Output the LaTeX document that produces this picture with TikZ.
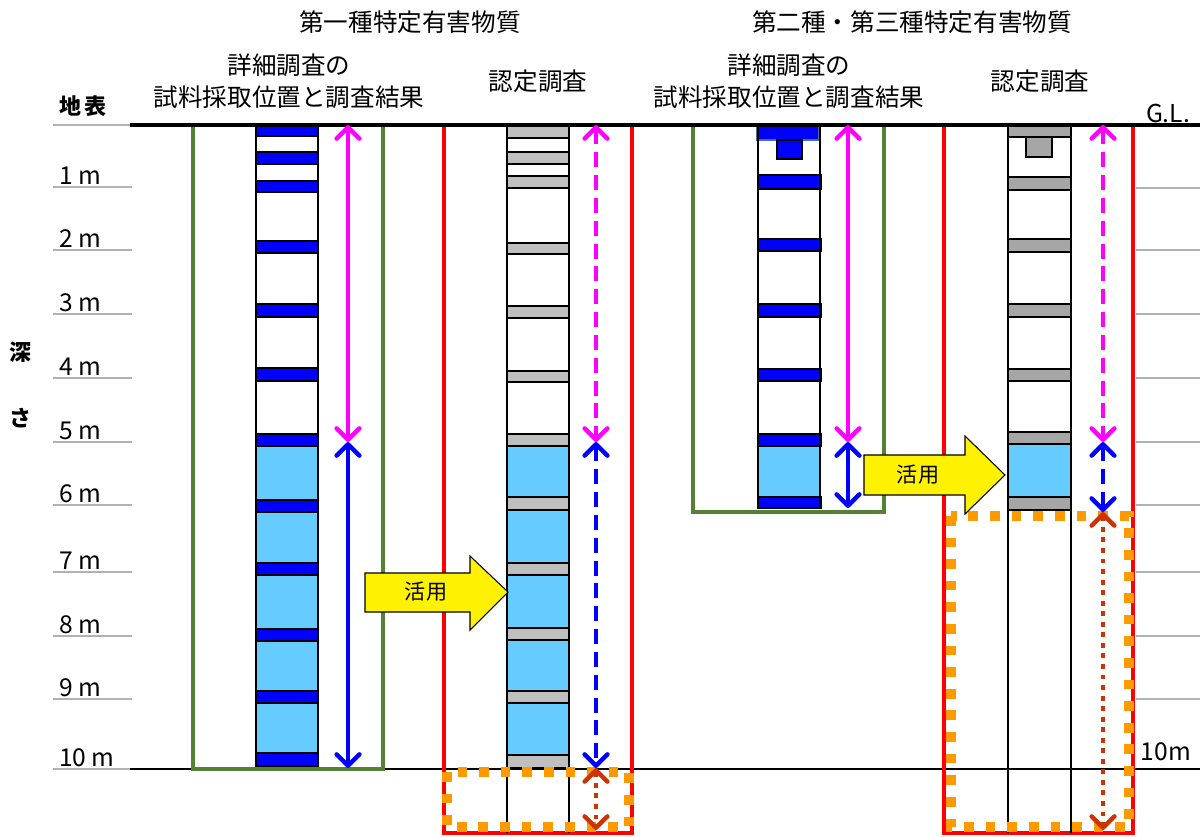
\documentclass[tikz,border=0pt]{standalone}
\usepackage{fontspec}
\setmainfont{Noto Sans CJK JP}
\usetikzlibrary{arrows.meta}

\definecolor{soilgreen}{HTML}{538135}
\definecolor{waterblue}{HTML}{66CCFF}
\definecolor{lightgrey}{HTML}{BFBFBF}
\definecolor{darkgrey}{HTML}{A6A6A6}
\definecolor{dotorange}{HTML}{FF9900}
\definecolor{rustred}{HTML}{CC3300}
\definecolor{edgeblue}{HTML}{41719C}
\definecolor{vividpink}{HTML}{FF00FF}

\begin{document}
\begin{tikzpicture}[
    x=0.02cm, y=-0.02cm,
    title/.style={
        font=\fontsize{14}{18.5}\selectfont,
        align=center,
        inner sep=0pt
    },
    depthlabel/.style={
        font=\fontsize{14}{16}\selectfont,
        anchor=south west,
        inner sep=1pt
    },
    sidelabel/.style={
        font=\fontsize{12.5}{15}\selectfont\bfseries,
        inner sep=0pt
    },
    usetext/.style={
        font=\fontsize{12}{14}\selectfont,
        inner sep=0pt
    },
    usearrow/.style={draw=black, fill=yellow, line width=0.6pt},
    gridline/.style={gray!60, line width=1.2pt},
    ground/.style={black, line width=2pt},
    survey/.style={soilgreen, line width=2.8pt},
    approve/.style={red, line width=2.8pt},
    core/.style={black, line width=1.5pt},
    blueband/.style={fill=blue, draw=black, line width=0.6pt},
    greyband/.style={fill=lightgrey, draw=black, line width=0.6pt},
    darkband/.style={fill=darkgrey, draw=black, line width=0.6pt},
    orangedots/.style={dotorange, line width=5.5pt, dash pattern=on 5.5pt off 6.8pt},
    tipped/.style={line width=2.5pt,
        {Straight Barb[length=6.5pt,width=13pt,round]}-{Straight Barb[length=6.5pt,width=13pt,round]}},
    pinkarrow/.style={tipped, vividpink},
    bluearrow/.style={tipped, blue},
    pinkdash/.style={pinkarrow, dash pattern=on 8.5pt off 4.5pt},
    bluedash/.style={bluearrow, dash pattern=on 8.5pt off 4.5pt},
    rustdots/.style={tipped, rustred, dash pattern=on 2.8pt off 3.2pt}
]
\useasboundingbox (0,0) rectangle (1200,837);

% headings
\node[title] (kind1) at (410,22) {第一種特定有害物質};
\node[title] (kind2) at (912,22) {第二種・第三種特定有害物質};
\node[title] (detail1) at (289,81) {詳細調査の\\試料採取位置と調査結果};
\node[title] (cert1) at (538,81) {認定調査};
\node[title] (detail2) at (789,81) {詳細調査の\\試料採取位置と調査結果};
\node[title] (cert2) at (1040,81) {認定調査};

\node[sidelabel] (surface) at (83,106) {地\,表};
\node[title] (gl) at (1168,113) {G.L.};
\node[sidelabel] (deep1) at (20,352) {深};
\node[sidelabel] (deep2) at (20,418) {さ};
\node[title] (tenright) at (1166,752) {10m};

% depth scale
\draw[gridline] (53,125) -- (130,125);
\foreach \d/\y in {1/187,2/250,3/314,4/378,5/442,6/505,7/572,8/636,9/699,10/769} {
    \node[depthlabel] (dep\d) at (57,\y) {\d\ m};
    \draw[gridline] (53,\y) -- (132,\y);
}
\foreach \y in {188,250,314,378,442,505,572,636,699} {
    \draw[gridline] (1136,\y) -- (1200,\y);
}
\draw[black, line width=1.1pt] (130,769) -- (1200,769);

% frames
\draw[survey] (193,125) rectangle (383,769);
\draw[approve] (444,125) rectangle (632,833);
\draw[survey] (693,125) rectangle (884,512);
\draw[approve] (944,125) rectangle (1133,833);

% column 1
\fill[waterblue] (256,446) rectangle (318,766);
\foreach \a/\b in {124/136,152/164,181/192,241/253,304/317,368/381,434/446,500/512,563/575,629/641,691/703,753/766} {
    \draw[blueband] (256,\a) rectangle (318,\b);
}
\draw[core] (256,125) rectangle (318,766);

% column 2
\fill[waterblue] (507,446) rectangle (569,755);
\foreach \a/\b in {124/138,152/164,176/188,243/254,306/318,371/382,434/446,497/510,563/575,628/640,691/703,755/768} {
    \draw[greyband] (507,\a) rectangle (569,\b);
}
\draw[core] (507,125) rectangle (569,768);
\draw[core] (507,768) -- (507,833) (569,768) -- (569,833);

% column 3
\fill[waterblue] (758,446) rectangle (820,497);
\draw[fill=blue, draw=edgeblue, line width=0.6pt] (757,124) rectangle (819,140);
\draw[blueband] (777,140) rectangle (802,159);
\foreach \a/\b in {175/189,239/251,304/317,369/381,434/446,497/508} {
    \draw[blueband] (758,\a) rectangle (821,\b);
}
\draw[core] (758,125) rectangle (820,508);

% column 4
\fill[waterblue] (1008,444) rectangle (1071,497);
\draw[darkband] (1026,137) rectangle (1052,157);
\foreach \a/\b in {124/137,177/190,239/252,304/317,369/381,432/444,497/510} {
    \draw[darkband] (1008,\a) rectangle (1071,\b);
}
\draw[core] (1008,125) rectangle (1071,510);
\draw[core] (1008,510) -- (1008,833) (1071,510) -- (1071,833);

% ground surface
\draw[ground] (130,125) -- (1200,125);

% extra depth to check
\draw[orangedots] (447,772) rectangle (629,827);
\draw[orangedots] (951,516) rectangle (1129,827);

% depth ranges
\coordinate (a1) at (348,125);
\coordinate (b1) at (348,442);
\coordinate (c1) at (348,768);
\coordinate (a2) at (596,125);
\coordinate (b2) at (596,442);
\coordinate (c2) at (596,768);
\coordinate (e2) at (596,830);
\coordinate (a3) at (848,125);
\coordinate (b3) at (848,442);
\coordinate (c3) at (848,508);
\coordinate (a4) at (1103,125);
\coordinate (b4) at (1103,442);
\coordinate (c4) at (1103,512);
\coordinate (e4) at (1103,830);

\draw[pinkarrow] (a1) -- (b1);
\draw[bluearrow] (b1) -- (c1);
\draw[pinkdash] (a2) -- (b2);
\draw[bluedash] (b2) -- (c2);
\draw[rustdots] (c2) -- (e2);
\draw[pinkarrow] (a3) -- (b3);
\draw[bluearrow] (b3) -- (c3);
\draw[pinkdash] (a4) -- (b4);
\draw[bluedash] (b4) -- (c4);
\draw[rustdots] (c4) -- (e4);

% reuse arrows
\draw[usearrow] (365,573) -- (470,573) -- (470,556) -- (508,592)
    -- (470,630) -- (470,612) -- (365,612) -- cycle;
\node[usetext] (use1) at (426,592) {活用};
\draw[usearrow] (864,455) -- (965,455) -- (965,436) -- (1005,475)
    -- (965,514) -- (965,495) -- (864,495) -- cycle;
\node[usetext] (use2) at (918,475) {活用};

\end{tikzpicture}
\end{document}
